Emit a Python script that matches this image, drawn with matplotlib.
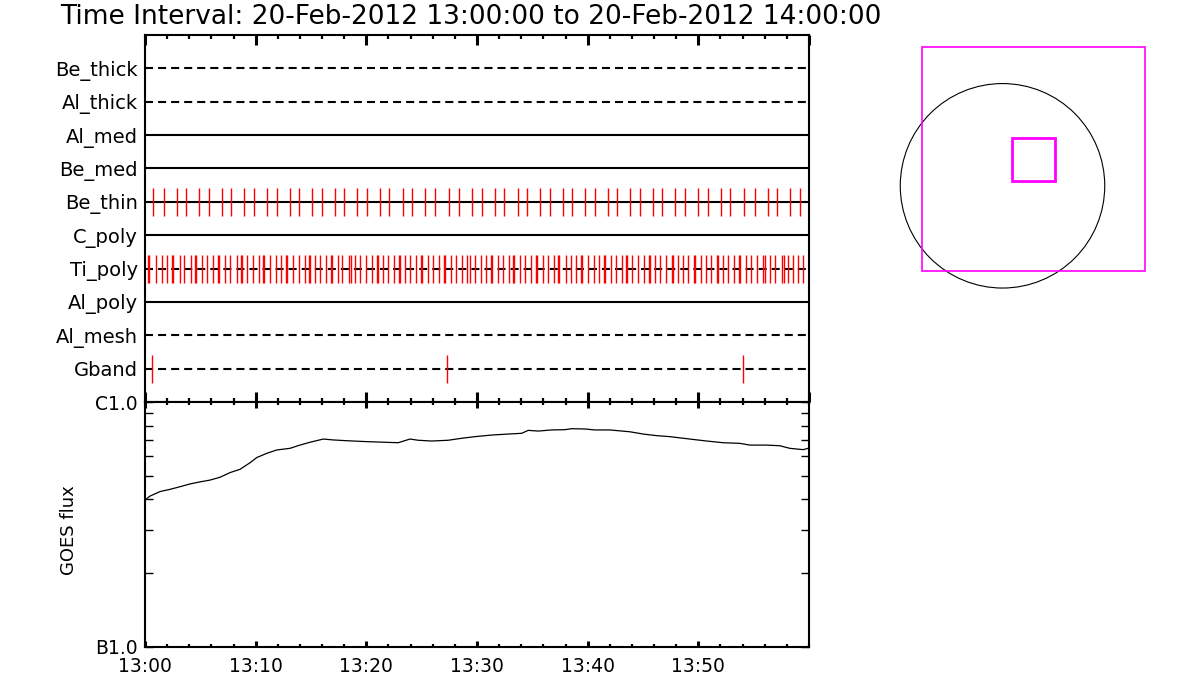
import matplotlib
matplotlib.use("Agg")
import matplotlib.pyplot as plt
import numpy as np
from matplotlib.patches import Circle, Rectangle
from matplotlib.ticker import FixedLocator, NullFormatter

# ---- data -------------------------------------------------------------
channels = ["Be_thick", "Al_thick", "Al_med", "Be_med", "Be_thin",
            "C_poly", "Ti_poly", "Al_poly", "Al_mesh", "Gband"]

# exposure times, minutes after 13:00
be_thin_times = [0.75, 1.74, 2.92, 3.73, 4.91, 5.81, 6.98, 7.80, 8.97, 9.87,
                 11.05, 11.95, 13.13, 13.94, 15.11, 16.01, 17.19, 18.00, 19.18,
                 20.08, 21.26, 22.07, 23.33, 24.15, 25.32, 26.22, 27.49, 28.39,
                 29.57, 30.47, 31.64, 32.46, 33.72, 34.53, 35.71, 36.61, 37.79,
                 38.60, 39.77, 40.68, 41.85, 42.66, 43.84, 44.74, 45.92, 46.73,
                 47.90, 48.81, 49.98, 50.88, 52.06, 52.87, 54.14, 55.13, 56.30,
                 57.11, 58.29, 59.20]
ti_poly_times = [0.25, 0.35, 0.99, 1.51, 2.01, 2.47, 2.56, 3.19, 3.52, 4.18,
                 4.56, 4.65, 5.12, 5.63, 6.14, 6.61, 6.70, 7.25, 7.68, 8.28,
                 8.70, 8.79, 9.24, 9.73, 10.27, 10.70, 10.79, 11.29, 11.81,
                 12.31, 12.78, 12.87, 13.37, 13.88, 14.43, 14.80, 14.89, 15.36,
                 15.84, 16.35, 16.85, 16.94, 17.41, 17.82, 18.46, 18.64, 18.97,
                 19.42, 19.94, 20.48, 20.94, 21.03, 21.47, 21.92, 22.49, 22.95,
                 23.04, 23.51, 23.97, 24.48, 24.95, 25.04, 25.56, 26.04, 26.59,
                 27.00, 27.09, 27.64, 28.09, 28.61, 29.06, 29.36, 29.81, 30.33,
                 30.80, 31.31, 31.40, 31.92, 32.31, 32.91, 33.27, 33.36, 33.88,
                 34.33, 34.90, 35.34, 35.43, 35.98, 36.38, 36.92, 37.36, 37.45,
                 38.00, 38.46, 38.93, 39.41, 39.50, 40.05, 40.53, 41.01, 41.49,
                 41.58, 42.10, 42.52, 43.06, 43.47, 43.56, 44.02, 44.56, 45.05,
                 45.55, 45.64, 46.10, 46.55, 47.09, 47.59, 47.68, 48.12, 48.63,
                 49.11, 49.64, 49.73, 50.20, 50.68, 51.16, 51.66, 51.75, 52.24,
                 52.69, 53.18, 53.68, 53.77, 54.29, 54.77, 55.31, 55.85, 56.03,
                 56.46, 56.94, 57.57, 57.75, 58.11, 58.51, 59.02, 59.50]
gband_times = [0.66, 27.28, 54.02]
exposures = {"Be_thin": be_thin_times, "Ti_poly": ti_poly_times,
             "Gband": gband_times}

# GOES 1-8 A flux, minutes after 13:00 and flux in units of 1e-7 W/m^2
goes_minutes = [0.0, 0.45, 1.36, 2.26, 3.16, 4.07, 4.97, 5.87, 6.78, 7.68,
                8.58, 9.49, 10.09, 10.99, 11.90, 13.10, 14.00, 14.91, 16.11,
                17.01, 18.22, 20.03, 21.68, 22.88, 23.94, 24.69, 25.90, 27.40,
                28.61, 29.81, 31.32, 32.82, 34.03, 34.63, 35.53, 36.74, 37.94,
                38.55, 39.75, 40.65, 42.01, 43.81, 45.01, 46.22, 47.43, 49.23,
                50.74, 52.24, 53.75, 54.65, 56.16, 57.36, 58.27, 59.47, 59.92]
goes_flux = [3.98, 4.13, 4.31, 4.40, 4.51, 4.63, 4.72, 4.80, 4.93, 5.15,
             5.31, 5.65, 5.93, 6.17, 6.37, 6.47, 6.67, 6.85, 7.06,
             7.00, 6.95, 6.89, 6.85, 6.82, 7.06, 6.98, 6.93, 6.98,
             7.11, 7.22, 7.33, 7.40, 7.45, 7.66, 7.61, 7.69, 7.71,
             7.78, 7.76, 7.69, 7.69, 7.56, 7.40, 7.29, 7.22, 7.06,
             6.93, 6.82, 6.78, 6.67, 6.67, 6.63, 6.47, 6.39, 6.47]

time_labels = ["13:00", "13:10", "13:20", "13:30", "13:40", "13:50"]
goes_labels = ["B1.0", "C1.0"]
title = "Time Interval: 20-Feb-2012 13:00:00 to 20-Feb-2012 14:00:00"

# field of view (arcsec)
disk_radius = 960
fov_center = (290, 250)
fov_size = 2100
roi_center = (292, 246)
roi_size = 400

# ---- figure -----------------------------------------------------------
plt.rcParams["font.family"] = "DejaVu Sans"
plt.rcParams["lines.scale_dashes"] = False
dashed = ["Be_thick", "Al_thick", "Ti_poly", "Al_mesh", "Gband"]

fig = plt.figure(figsize=(12, 7), dpi=100)
W, H = 1200.0, 700.0


def px_axes(x0, y0, x1, y1):
    return fig.add_axes([x0 / W, 1 - y1 / H, (x1 - x0) / W, (y1 - y0) / H])


ax = px_axes(145, 35, 809, 402)
ax2 = px_axes(145, 402, 809, 647)

n = len(channels)
rows = np.arange(n, 0, -1)
for name, y in zip(channels, rows):
    ls = (0, (5.8, 3.6)) if name in dashed else "-"
    ax.plot([0, 60], [y, y], color="black", lw=1.5, ls=ls, zorder=2)
    if name in exposures:
        ax.vlines(exposures[name], y - 0.42, y + 0.42, color="red", lw=1.0,
                  zorder=3)

ax.set_xlim(0, 60)
ax.set_ylim(0, n + 1)
ax.set_yticks(rows)
ax.set_yticklabels(channels, fontsize=14)
ax.xaxis.set_major_locator(FixedLocator(np.arange(0, 61, 10)))
ax.xaxis.set_minor_locator(FixedLocator(np.arange(0, 61, 2)))
ax.xaxis.set_major_formatter(NullFormatter())
ax.tick_params(axis="x", which="major", direction="in", top=True,
               bottom=True, length=7, width=2.2)
ax.tick_params(axis="x", which="minor", direction="in", top=True,
               bottom=True, length=3, width=1.6)
ax.tick_params(axis="y", direction="in", left=True, right=False, length=5,
               width=1.2, pad=5)
for s in ax.spines.values():
    s.set_linewidth(1.5)

# GOES panel
ax2.plot(goes_minutes, np.array(goes_flux) * 1e-7, color="black", lw=0.9)
ax2.set_yscale("log")
ax2.set_ylim(1e-7, 1e-6)
ax2.set_xlim(0, 60)
ax2.yaxis.set_major_locator(FixedLocator([1e-7, 1e-6]))
ax2.set_yticklabels(goes_labels, fontsize=13.5)
ax2.yaxis.set_minor_locator(FixedLocator(np.arange(2, 10) * 1e-7))
ax2.yaxis.set_minor_formatter(NullFormatter())
ax2.tick_params(axis="y", which="both", direction="in", left=True,
                right=True, length=6, width=1.0, pad=5)
ax2.xaxis.set_major_locator(FixedLocator(np.arange(0, 51, 10)))
ax2.set_xticklabels(time_labels, fontsize=13.5)
ax2.xaxis.set_minor_locator(FixedLocator(np.arange(0, 61, 2)))
ax2.tick_params(axis="x", which="major", direction="in", top=True,
                bottom=True, length=4, width=2.2, pad=7)
ax2.tick_params(axis="x", which="minor", direction="in", top=True,
                bottom=True, length=2, width=1.6)
ax2.set_ylabel("GOES flux", fontsize=13)
ax2.yaxis.set_label_coords(-0.101, 0.478)
for s in ax2.spines.values():
    s.set_linewidth(1.5)

fig.text(60 / W, 1 - 17 / H, title, fontsize=19, ha="left", va="center")

# field-of-view map
scale = 0.1065  # px per arcsec
cx, cy = 1002.5, 185.8
axm = px_axes(880, 20, 1180, 320)
axm.set_xlim((880 - cx) / scale, (1180 - cx) / scale)
axm.set_ylim((cy - 320) / scale, (cy - 20) / scale)
axm.set_axis_off()
axm.add_patch(Circle((0, 0), disk_radius, fill=False, color="black", lw=0.8))
axm.add_patch(Rectangle((fov_center[0] - fov_size / 2,
                         fov_center[1] - fov_size / 2), fov_size, fov_size,
                        fill=False, edgecolor="#ff00ff", lw=1.2))
axm.add_patch(Rectangle((roi_center[0] - roi_size / 2,
                         roi_center[1] - roi_size / 2), roi_size, roi_size,
                        fill=False, edgecolor="#ff00ff", lw=2.0))

fig.savefig("out.png", dpi=100)
